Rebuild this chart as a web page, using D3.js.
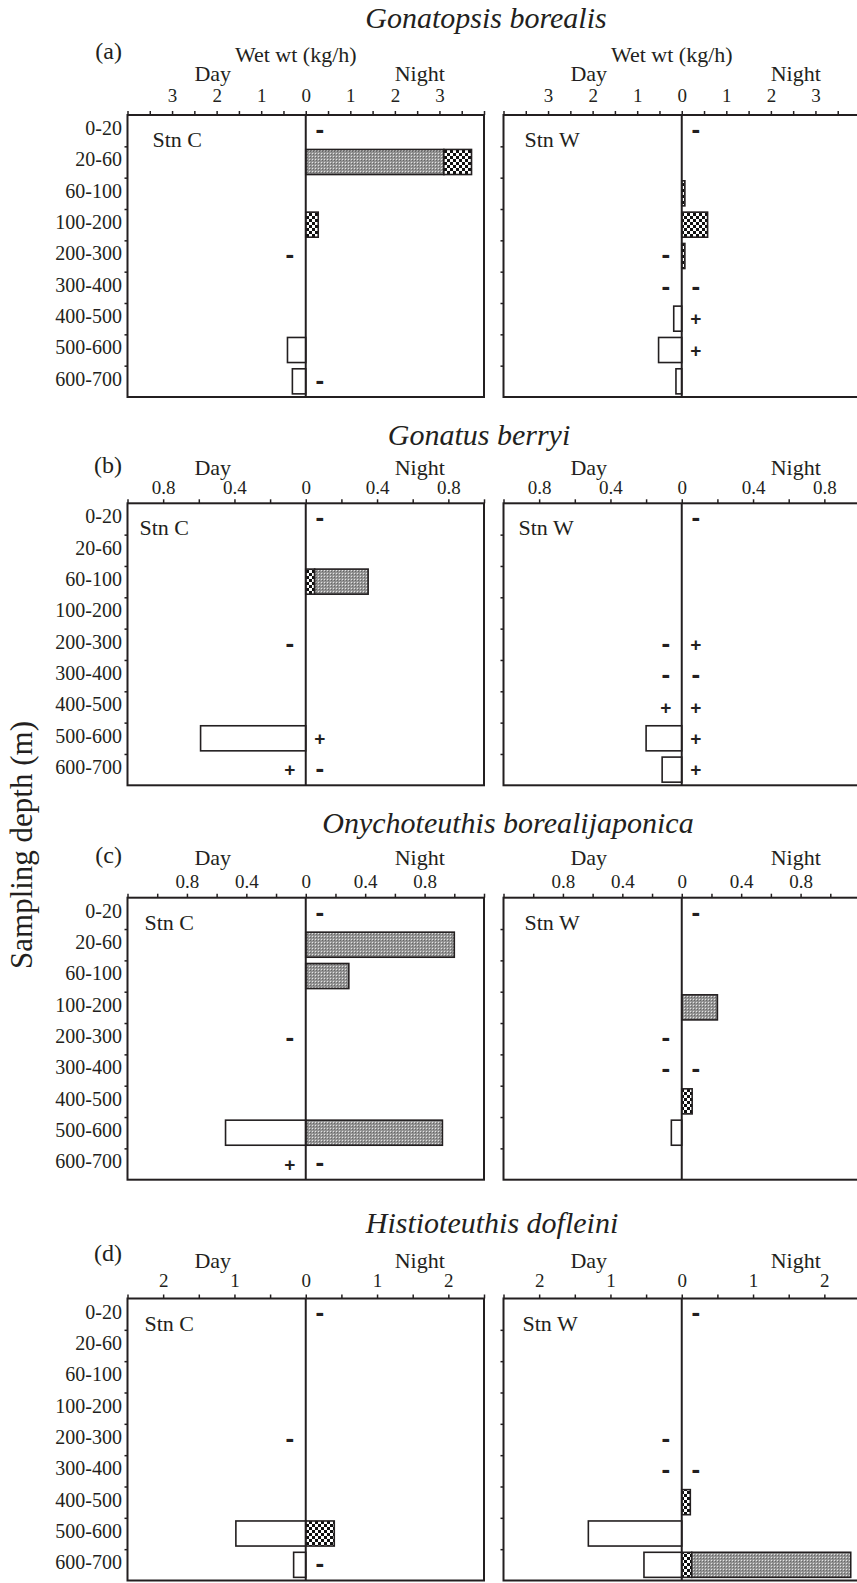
<!DOCTYPE html>
<html>
<head>
<meta charset="utf-8"/>
<script src="https://cdn.jsdelivr.net/npm/d3@7"></script>
<style>
  body { margin: 0; background: #fff; }
  text { font-family: "Liberation Serif", "Times New Roman", serif; fill: #231f20; }
  .title { font-style: italic; font-size: 30px; }
  .tag { font-size: 24px; }
  .head { font-size: 22px; }
  .tick text { font-size: 19px; }
  .tick line { stroke: #231f20; stroke-width: 1.5; }
  .row { font-size: 20px; }
  .stn { font-size: 22px; }
  .minus { font-family: "Liberation Sans", Arial, sans-serif; font-weight: bold; font-size: 26px; }
  .plus { font-family: "Liberation Sans", Arial, sans-serif; font-weight: bold; font-size: 19px; }
  .ytitle { font-size: 31px; }
</style>
</head>
<body>
<svg id="fig" width="857" height="1583">
  <defs>
    <pattern id="chk" width="6" height="6" patternUnits="userSpaceOnUse">
      <rect width="6" height="6" fill="#fff"/>
      <rect width="3" height="3" fill="#111"/>
      <rect x="3" y="3" width="3" height="3" fill="#111"/>
    </pattern>
    <pattern id="dots" width="3" height="3" patternUnits="userSpaceOnUse">
      <rect width="3" height="3" fill="#979797"/>
      <rect width="1" height="1" fill="#e4e4e4"/>
      <rect x="1" y="1" width="1" height="1" fill="#666"/>
      <rect x="2" y="2" width="1" height="1" fill="#888"/>
    </pattern>
  </defs>
</svg>
<script>
// ---- data ----
var depthBins = ["0-20", "20-60", "60-100", "100-200", "200-300", "300-400", "400-500", "500-600", "600-700"];
var species = ["Gonatopsis borealis", "Gonatus berryi", "Onychoteuthis borealijaponica", "Histioteuthis dofleini"];
var panelTags = ["(a)", "(b)", "(c)", "(d)"];
var stations = ["Stn C", "Stn W"];
var axisMax = [4, 1, 1.2, 2.5];
var tickStep = [0.5, 0.2, 0.2, 0.5];
var tickLabels = [[0, 1, 2, 3], [0, 0.4, 0.8], [0, 0.4, 0.8], [0, 1, 2]];

// (a) Gonatopsis borealis
var aC_day   = [0, 0, 0, 0, 0, 0, 0, 0.41, 0.30];
var aC_grey  = [0, 3.10, 0, 0, 0, 0, 0, 0, 0];
var aC_check = [0, 0.62, 0, 0.28, 0, 0, 0, 0, 0];
var aC_dayMark   = ["", "", "", "", "-", "", "", "", ""];
var aC_nightMark = ["-", "", "", "", "", "", "", "", "-"];
var aW_day   = [0, 0, 0, 0, 0, 0, 0.18, 0.52, 0.13];
var aW_grey  = [0, 0, 0, 0, 0, 0, 0, 0, 0];
var aW_check = [0, 0, 0.07, 0.58, 0.07, 0, 0, 0, 0];
var aW_dayMark   = ["", "", "", "", "-", "-", "", "", ""];
var aW_nightMark = ["-", "", "", "", "", "-", "+", "+", ""];

// (b) Gonatus berryi
var bC_day   = [0, 0, 0, 0, 0, 0, 0, 0.59, 0];
var bC_grey  = [0, 0, 0.30, 0, 0, 0, 0, 0, 0];
var bC_check = [0, 0, 0.05, 0, 0, 0, 0, 0, 0];
var bC_dayMark   = ["", "", "", "", "-", "", "", "", "+"];
var bC_nightMark = ["-", "", "", "", "", "", "", "+", "-"];
var bW_day   = [0, 0, 0, 0, 0, 0, 0, 0.20, 0.11];
var bW_grey  = [0, 0, 0, 0, 0, 0, 0, 0, 0];
var bW_check = [0, 0, 0, 0, 0, 0, 0, 0, 0];
var bW_dayMark   = ["", "", "", "", "-", "-", "+", "", ""];
var bW_nightMark = ["-", "", "", "", "+", "-", "+", "+", "+"];

// (c) Onychoteuthis borealijaponica
var cC_day   = [0, 0, 0, 0, 0, 0, 0, 0.54, 0];
var cC_grey  = [0, 1.00, 0.29, 0, 0, 0, 0, 0.92, 0];
var cC_check = [0, 0, 0, 0, 0, 0, 0, 0, 0];
var cC_dayMark   = ["", "", "", "", "-", "", "", "", "+"];
var cC_nightMark = ["-", "", "", "", "", "", "", "", "-"];
var cW_day   = [0, 0, 0, 0, 0, 0, 0, 0.07, 0];
var cW_grey  = [0, 0, 0, 0.24, 0, 0, 0, 0, 0];
var cW_check = [0, 0, 0, 0, 0, 0, 0.07, 0, 0];
var cW_dayMark   = ["", "", "", "", "-", "-", "", "", ""];
var cW_nightMark = ["-", "", "", "", "", "-", "", "", ""];

// (d) Histioteuthis dofleini
var dC_day   = [0, 0, 0, 0, 0, 0, 0, 0.98, 0.17];
var dC_grey  = [0, 0, 0, 0, 0, 0, 0, 0, 0];
var dC_check = [0, 0, 0, 0, 0, 0, 0, 0.40, 0];
var dC_dayMark   = ["", "", "", "", "-", "", "", "", ""];
var dC_nightMark = ["-", "", "", "", "", "", "", "", "-"];
var dW_day   = [0, 0, 0, 0, 0, 0, 0, 1.31, 0.53];
var dW_grey  = [0, 0, 0, 0, 0, 0, 0, 0, 2.23];
var dW_check = [0, 0, 0, 0, 0, 0, 0.12, 0, 0.14];
var dW_dayMark   = ["", "", "", "", "-", "-", "", "", ""];
var dW_nightMark = ["-", "", "", "", "", "-", "", "", ""];

// ---- layout ----
var panelW = 356.5, panelH = 282;
var colLeft = [127.5, 503.5];
var groupTop = [115, 503.3, 897.7, 1298.5];
var titleX = [486, 479, 508, 492];
var titleY = [28, 445, 833, 1233];
var tagY = [59, 473, 863, 1261];
var dayY = [81, 475, 865, 1268];
var tickPad = [9, 5, 5.4, 7.6];
var stnDx = [[25, 21], [12, 15], [17, 21], [17, 19]];

var panels = [
  {g: 0, s: 0, day: aC_day, grey: aC_grey, check: aC_check, dm: aC_dayMark, nm: aC_nightMark, order: ["grey", "check"]},
  {g: 0, s: 1, day: aW_day, grey: aW_grey, check: aW_check, dm: aW_dayMark, nm: aW_nightMark, order: ["check", "grey"]},
  {g: 1, s: 0, day: bC_day, grey: bC_grey, check: bC_check, dm: bC_dayMark, nm: bC_nightMark, order: ["check", "grey"]},
  {g: 1, s: 1, day: bW_day, grey: bW_grey, check: bW_check, dm: bW_dayMark, nm: bW_nightMark, order: ["check", "grey"]},
  {g: 2, s: 0, day: cC_day, grey: cC_grey, check: cC_check, dm: cC_dayMark, nm: cC_nightMark, order: ["check", "grey"]},
  {g: 2, s: 1, day: cW_day, grey: cW_grey, check: cW_check, dm: cW_dayMark, nm: cW_nightMark, order: ["check", "grey"]},
  {g: 3, s: 0, day: dC_day, grey: dC_grey, check: dC_check, dm: dC_dayMark, nm: dC_nightMark, order: ["check", "grey"]},
  {g: 3, s: 1, day: dW_day, grey: dW_grey, check: dW_check, dm: dW_dayMark, nm: dW_nightMark, order: ["check", "grey"]}
];

var ink = "#231f20";
var fills = {grey: "url(#dots)", check: "url(#chk)"};
var svg = d3.select("#fig");

// group headings
species.forEach(function(name, gi) {
  svg.append("text").attr("class", "title")
    .attr("x", titleX[gi]).attr("y", titleY[gi])
    .attr("text-anchor", "middle").text(name);
  svg.append("text").attr("class", "tag")
    .attr("x", 122).attr("y", tagY[gi])
    .attr("text-anchor", "end").text(panelTags[gi]);
});

svg.append("text").attr("class", "ytitle")
  .attr("transform", "translate(32,845) rotate(-90)")
  .attr("text-anchor", "middle")
  .text("Sampling depth (m)");

panels.forEach(drawPanel);

function drawPanel(p) {
  var gi = p.g, left = colLeft[p.s], top = groupTop[gi];
  var m = axisMax[gi], st = tickStep[gi];
  var x = d3.scaleLinear().domain([-m, m]).range([left, left + panelW]);
  var y = d3.scaleBand().domain(depthBins).range([top, top + panelH]);
  var yb = d3.scaleLinear().domain([0, depthBins.length]).range([top, top + panelH]);
  var bw = y.bandwidth();
  var g = svg.append("g");

  // headings over the panel
  g.append("text").attr("class", "head")
    .attr("x", x(0) - 93).attr("y", dayY[gi])
    .attr("text-anchor", "middle").text("Day");
  g.append("text").attr("class", "head")
    .attr("x", x(0) + 114).attr("y", dayY[gi])
    .attr("text-anchor", "middle").text("Night");
  if (gi == 0) {
    g.append("text").attr("class", "head")
      .attr("x", x(0) - 10).attr("y", 62)
      .attr("text-anchor", "middle").text("Wet wt (kg/h)");
  }

  // top axis
  var n = Math.round(m / st);
  var tv = d3.range(-n, n + 1).map(function(i) { return +(i * st).toFixed(3); });
  var ax = d3.axisTop(x).tickValues(tv).tickSize(4).tickPadding(tickPad[gi])
    .tickFormat(function(v) {
      var a = +Math.abs(v).toFixed(3);
      return tickLabels[gi].indexOf(a) >= 0 ? String(a) : "";
    });
  g.append("g").attr("transform", "translate(0," + top + ")")
    .call(ax)
    .call(function(s) { s.select(".domain").remove(); s.attr("font-family", null).attr("font-size", null); });

  // left axis: row boundaries
  var ay = d3.axisLeft(yb).tickValues(d3.range(1, depthBins.length)).tickSize(3).tickFormat("");
  g.append("g").attr("transform", "translate(" + left + ",0)")
    .call(ay)
    .call(function(s) { s.select(".domain").remove(); });

  if (p.s == 0) {
    g.selectAll(".row").data(depthBins).enter().append("text")
      .attr("class", "row")
      .attr("x", left - 5.5)
      .attr("y", function(d) { return y(d) + bw / 2; })
      .attr("dy", "0.22em")
      .attr("text-anchor", "end")
      .text(function(d) { return d; });
  }

  // day bars (open)
  var rows = depthBins.map(function(d, i) {
    return {depth: d, day: p.day[i], grey: p.grey[i], check: p.check[i], dm: p.dm[i], nm: p.nm[i]};
  });
  g.selectAll(".dbar").data(rows.filter(function(r) { return r.day > 0; })).enter().append("rect")
    .attr("x", function(r) { return x(-r.day); })
    .attr("y", function(r) { return y(r.depth) + bw * 0.1; })
    .attr("width", function(r) { return x(0) - x(-r.day); })
    .attr("height", bw * 0.8)
    .attr("fill", "#fff").attr("stroke", ink).attr("stroke-width", 1.6);

  // night bars (stacked patterns)
  var series = d3.stack().keys(p.order)(rows);
  series.forEach(function(sr) {
    g.selectAll(null).data(sr.filter(function(d) { return d[1] - d[0] > 0; })).enter().append("rect")
      .attr("x", function(d) { return x(d[0]); })
      .attr("y", function(d) { return y(d.data.depth) + bw * 0.1; })
      .attr("width", function(d) { return x(d[1]) - x(d[0]); })
      .attr("height", bw * 0.8)
      .attr("fill", fills[sr.key]).attr("stroke", ink).attr("stroke-width", 1.6);
  });

  // frame and zero line
  g.append("rect").attr("x", left).attr("y", top).attr("width", panelW).attr("height", panelH)
    .attr("fill", "none").attr("stroke", ink).attr("stroke-width", 2);
  g.append("line").attr("x1", x(0)).attr("x2", x(0)).attr("y1", top).attr("y2", top + panelH)
    .attr("stroke", ink).attr("stroke-width", 2);

  // +/- markers
  function marks(key, dx) {
    g.selectAll(null).data(rows.filter(function(r) { return r[key] != ""; })).enter().append("text")
      .attr("class", function(r) { return r[key] == "-" ? "minus" : "plus"; })
      .attr("x", x(0) + dx)
      .attr("y", function(r) { return y(r.depth) + bw / 2 + (r[key] == "-" ? 7.3 : 6.7); })
      .attr("text-anchor", "middle")
      .text(function(r) { return r[key]; });
  }
  marks("dm", -16);
  marks("nm", 14);

  g.append("text").attr("class", "stn")
    .attr("x", left + stnDx[gi][p.s]).attr("y", top + 32)
    .text(stations[p.s]);
}
</script>
</body>
</html>
